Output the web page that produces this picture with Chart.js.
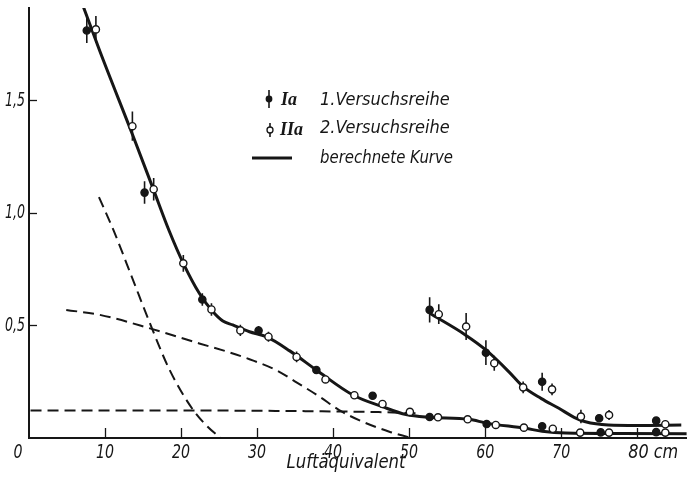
<!DOCTYPE html>
<html>
<head>
<meta charset="utf-8">
<script src="https://cdn.jsdelivr.net/npm/chart.js@4.4.1/dist/chart.umd.min.js"></script>
<style>
  html, body { margin: 0; padding: 0; background: #fff; }
</style>
</head>
<body>
<canvas id="chart" width="692" height="477"></canvas>
<script>
// tick values
var xTicks = [10, 20, 30, 40, 50, 60, 70, 80];
var yTicks = [0.5, 1.0, 1.5];
var yTickLabels = ['0,5', '1,0', '1,5'];

// 1. Versuchsreihe (Ia), lower branch
var ia_x = [7.6, 15.2, 22.8, 30.2, 37.8, 45.2, 52.7, 60.2, 67.5, 75.2, 82.5];
var ia_y = [1.81, 1.09, 0.615, 0.477, 0.302, 0.188, 0.093, 0.062, 0.052, 0.025, 0.026];
var ia_err = [0.056, 0.05, 0.028, 0.02, 0.018, 0, 0, 0, 0, 0, 0];
// Ia, upper branch
var ia2_x = [52.7, 60.1, 67.5, 75.0, 82.5];
var ia2_y = [0.569, 0.379, 0.25, 0.088, 0.077];
var ia2_err = [0.056, 0.055, 0.04, 0, 0];

// 2. Versuchsreihe (IIa), lower branch
var iia_x = [8.8, 13.6, 16.4, 20.3, 24.0, 27.8, 31.5, 35.2, 39.0, 42.8, 46.5, 50.1, 53.8, 57.7, 61.4, 65.1, 68.9, 72.5, 76.3, 83.7];
var iia_y = [1.815, 1.385, 1.105, 0.776, 0.571, 0.478, 0.45, 0.36, 0.26, 0.19, 0.151, 0.116, 0.092, 0.083, 0.058, 0.046, 0.041, 0.024, 0.024, 0.024];
var iia_err = [0.06, 0.065, 0.05, 0.037, 0.028, 0.025, 0.022, 0.024, 0.012, 0, 0, 0, 0, 0, 0, 0, 0, 0, 0, 0];
// IIa, upper branch
var iia2_x = [53.9, 57.5, 61.2, 65.0, 68.8, 72.6, 76.3, 83.7];
var iia2_y = [0.55, 0.495, 0.332, 0.225, 0.216, 0.095, 0.102, 0.061];
var iia2_err = [0.044, 0.06, 0.033, 0.026, 0.026, 0.03, 0.022, 0];

// berechnete Kurve (solid)
var calc1_x = [7.1, 9.3, 13.7, 16.3, 18.5, 20.3, 22.4, 24.2, 25.5, 26.8, 29.0, 31.2, 34.3, 37.8, 42.6, 46.5, 49.6, 52.6, 57.9, 60.2, 65.3, 67.5, 70.6, 78.0, 86.7];
var calc1_y = [1.92, 1.72, 1.34, 1.11, 0.915, 0.776, 0.643, 0.561, 0.52, 0.502, 0.472, 0.45, 0.387, 0.302, 0.191, 0.139, 0.104, 0.092, 0.083, 0.066, 0.043, 0.03, 0.022, 0.02, 0.019];
var calc2_x = [52.7, 57.4, 60.1, 63.1, 65.0, 67.4, 69.7, 71.7, 73.2, 76.2, 80.0, 85.8];
var calc2_y = [0.554, 0.458, 0.391, 0.295, 0.228, 0.175, 0.132, 0.092, 0.072, 0.058, 0.056, 0.058];

// component curves (dashed)
var compA_x = [9.2, 11.1, 13.7, 15.9, 18.5, 21.6, 23.5, 25.2];
var compA_y = [1.07, 0.924, 0.70, 0.51, 0.302, 0.124, 0.05, 0.0];
var compB_x = [4.9, 9.3, 15.9, 22.4, 26.4, 29.0, 32.5, 35.3, 38.2, 40.8, 43.9, 47.4, 50.0];
var compB_y = [0.569, 0.547, 0.487, 0.42, 0.38, 0.35, 0.302, 0.245, 0.184, 0.124, 0.072, 0.028, 0.003];
var compC_x = [0.2, 20, 30, 40, 46, 51.5];
var compC_y = [0.122, 0.122, 0.121, 0.118, 0.115, 0.109];

var INK = '#161616';
var TXT_FONT = '"Liberation Sans Narrow", "DejaVu Sans Condensed", "Liberation Sans", sans-serif';

function pts(xs, ys) {
  var out = [];
  for (var i = 0; i < xs.length; i++) out.push({ x: xs[i], y: ys[i] });
  return out;
}

// vertical error bars as separate segments, split by nulls
function errSegs(xs, ys, es) {
  var out = [];
  for (var i = 0; i < xs.length; i++) {
    if (!es[i]) continue;
    out.push({ x: xs[i], y: ys[i] - es[i] });
    out.push({ x: xs[i], y: ys[i] + es[i] });
    out.push({ x: xs[i], y: null });
  }
  return out;
}

function curve(xs, ys, dashed) {
  return {
    type: 'line',
    data: pts(xs, ys),
    borderColor: INK,
    borderWidth: dashed ? 2 : 3,
    borderDash: dashed ? [11, 6] : [],
    pointRadius: 0,
    cubicInterpolationMode: 'monotone',
    fill: false,
    order: 3
  };
}

function errSet(xs, ys, es) {
  return {
    type: 'line',
    data: errSegs(xs, ys, es),
    borderColor: INK,
    borderWidth: 1.6,
    pointRadius: 0,
    spanGaps: false,
    fill: false,
    order: 2
  };
}

function marks(xs, ys, filled) {
  return {
    type: 'scatter',
    data: pts(xs, ys),
    pointRadius: 3.6,
    pointBorderWidth: 1.4,
    pointBackgroundColor: filled ? INK : '#fff',
    pointBorderColor: INK,
    order: 1
  };
}

// inward tick marks, tick labels, axis title and the legend
var decor = {
  id: 'decor',
  afterDraw: function(chart) {
    var ctx = chart.ctx;
    var xs = chart.scales.x, ys = chart.scales.y;
    var area = chart.chartArea;
    ctx.save();
    ctx.strokeStyle = INK;
    ctx.fillStyle = INK;
    ctx.lineWidth = 1.3;
    xTicks.forEach(function(v) {
      var px = Math.round(xs.getPixelForValue(v)) + 0.5;
      ctx.beginPath();
      ctx.moveTo(px, area.bottom);
      ctx.lineTo(px, area.bottom - 10);
      ctx.stroke();
    });
    yTicks.forEach(function(v) {
      var py = Math.round(ys.getPixelForValue(v)) + 0.5;
      ctx.beginPath();
      ctx.moveTo(area.left, py);
      ctx.lineTo(area.left + 8, py);
      ctx.stroke();
    });

    // labels are squeezed with maxWidth to get the narrow lettering
    ctx.font = 'italic 19px ' + TXT_FONT;
    ctx.textBaseline = 'middle';
    ctx.textAlign = 'center';
    var ly = area.bottom + 15;
    ctx.fillText('0', xs.getPixelForValue(0) - 11, ly, 9);
    xTicks.forEach(function(v) {
      var px = xs.getPixelForValue(v);
      if (v === 80) {
        ctx.textAlign = 'left';
        ctx.fillText('80 cm', px - 9, ly, 50);
        ctx.textAlign = 'center';
      } else {
        ctx.fillText(String(v), px, ly, 18);
      }
    });
    ctx.font = 'italic 20px ' + TXT_FONT;
    ctx.textAlign = 'right';
    yTicks.forEach(function(v, i) {
      ctx.fillText(yTickLabels[i], area.left - 4, ys.getPixelForValue(v), 20);
    });

    ctx.textAlign = 'center';
    ctx.font = 'italic 20px ' + TXT_FONT;
    ctx.fillText('Luftäquivalent', 346, 463, 119);

    // legend
    ctx.lineWidth = 1.6;
    ctx.beginPath(); ctx.moveTo(269, 90); ctx.lineTo(269, 108); ctx.stroke();
    ctx.beginPath(); ctx.arc(269, 99, 3.4, 0, Math.PI * 2); ctx.fill();
    ctx.beginPath(); ctx.moveTo(270, 123); ctx.lineTo(270, 137); ctx.stroke();
    ctx.beginPath(); ctx.arc(270, 130, 3, 0, Math.PI * 2);
    ctx.fillStyle = '#fff'; ctx.fill(); ctx.lineWidth = 1.3; ctx.stroke();
    ctx.fillStyle = INK;
    ctx.lineWidth = 3;
    ctx.beginPath(); ctx.moveTo(252, 158); ctx.lineTo(292, 158); ctx.stroke();

    ctx.textAlign = 'left';
    ctx.font = 'italic bold 18px "Liberation Serif", "DejaVu Serif", serif';
    ctx.fillText('Ia', 281, 100);
    ctx.fillText('IIa', 280, 130);
    ctx.font = 'italic 18px ' + TXT_FONT;
    ctx.fillText('1.Versuchsreihe', 320, 100, 131);
    ctx.fillText('2.Versuchsreihe', 320, 128, 131);
    ctx.fillText('berechnete Kurve', 320, 158, 133);
    ctx.restore();
  }
};

var axisBorder = { display: true, color: INK, width: 2 };

new Chart(document.getElementById('chart').getContext('2d'), {
  type: 'scatter',
  data: {
    datasets: [
      marks(ia_x, ia_y, true),
      marks(ia2_x, ia2_y, true),
      marks(iia_x, iia_y, false),
      marks(iia2_x, iia2_y, false),
      errSet(ia_x, ia_y, ia_err),
      errSet(ia2_x, ia2_y, ia2_err),
      errSet(iia_x, iia_y, iia_err),
      errSet(iia2_x, iia2_y, iia2_err),
      curve(calc1_x, calc1_y, false),
      curve(calc2_x, calc2_y, false),
      curve(compA_x, compA_y, true),
      curve(compB_x, compB_y, true),
      curve(compC_x, compC_y, true)
    ]
  },
  options: {
    responsive: false,
    animation: false,
    layout: { padding: { left: 29, right: 4, top: 8, bottom: 39 } },
    plugins: { legend: { display: false }, tooltip: { enabled: false } },
    scales: {
      x: {
        type: 'linear', min: 0, max: 86.5,
        ticks: { display: false },
        grid: { display: false, drawTicks: false },
        border: axisBorder
      },
      y: {
        type: 'linear', min: 0, max: 1.91,
        ticks: { display: false },
        grid: { display: false, drawTicks: false },
        border: axisBorder
      }
    }
  },
  plugins: [decor]
});
</script>
</body>
</html>
